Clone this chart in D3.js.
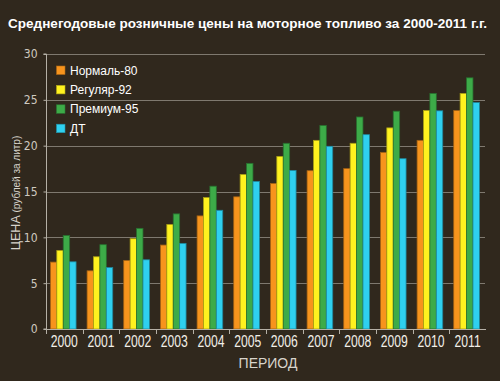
<!DOCTYPE html>
<html><head><meta charset="utf-8">
<script src="https://cdnjs.cloudflare.com/ajax/libs/d3/7.8.5/d3.min.js"></script>
<style>
html,body{margin:0;padding:0;background:#30281d;}
svg{display:block;}
</style></head><body>
<svg id="c" width="500" height="381"></svg>
<script>
const years = ["2000","2001","2002","2003","2004","2005","2006","2007","2008","2009","2010","2011"];
const seriesNames = ["Нормаль-80","Регуляр-92","Премиум-95","ДТ"];
const seriesColors = ["#f7941d","#fff21f","#3dab48","#2fd0ef"];
const normal80 = [7.3,6.35,7.48,9.16,12.34,14.42,15.88,17.27,17.5,19.27,20.58,23.84];
const regular92 = [8.57,7.88,9.85,11.4,14.34,16.86,18.83,20.58,20.26,21.94,23.84,25.7];
const premium95 = [10.2,9.2,10.98,12.56,15.58,18.07,20.26,22.2,23.13,23.76,25.7,27.4];
const dt = [7.33,6.7,7.55,9.34,12.95,16.1,17.3,19.93,21.2,18.58,23.8,24.7];
const yTicks = [0,5,10,15,20,25,30];
const title = "Среднегодовые розничные цены на моторное топливо за 2000-2011 г.г.";
const xTitle = "ПЕРИОД";

const seriesData = [normal80, regular92, premium95, dt];
const svg = d3.select("#c");
svg.append("rect").attr("width",500).attr("height",381).attr("fill","#30281d");

const m = {l:46, r:14, t:54, b:52};
const W = 500, H = 381;
const x0 = d3.scaleBand().domain(years).range([m.l, W - m.r]).padding(0);
const x1 = d3.scaleBand().domain(d3.range(4)).range([x0.bandwidth()*0.12, x0.bandwidth()*0.82]).padding(0);
const y = d3.scaleLinear().domain([0,30]).range([H - m.b, m.t]);

// gridlines
svg.append("g").selectAll("line").data(yTicks.filter(d=>d>0)).join("line")
  .attr("x1", m.l+1).attr("x2", W - m.r - 1)
  .attr("y1", d=>Math.round(y(d))+0.5).attr("y2", d=>Math.round(y(d))+0.5)
  .attr("stroke","#7f796f").attr("stroke-width",1);

// bars
const g = svg.append("g");
years.forEach((yr, i) => {
  seriesData.forEach((arr, s) => {
    g.append("rect")
      .attr("x", x0(yr) + x1(s))
      .attr("y", y(arr[i]))
      .attr("width", x1.bandwidth())
      .attr("height", y(0) - y(arr[i]))
      .attr("fill", seriesColors[s])
      .attr("stroke", d3.color(seriesColors[s]).darker(1.2))
      .attr("stroke-width", 0.8);
  });
});

// y axis
const yAxis = svg.append("g").attr("transform", `translate(${m.l+0.5},0)`)
  .call(d3.axisLeft(y).tickValues(yTicks).tickSize(3).tickPadding(6));
yAxis.select(".domain").attr("stroke","#b5b0a6").attr("d", `M-3,${y(0)}H0V${y(30)}H-3`);
yAxis.selectAll(".tick line").attr("stroke","#b5b0a6");
yAxis.selectAll(".tick text").attr("fill","#cfcac0")
  .style("font-family","'Liberation Sans Narrow', 'DejaVu Sans Condensed', sans-serif")
  .style("font-size","12px");

// x axis
const xAxis = svg.append("g").attr("transform", `translate(0,${Math.round(y(0))+0.5})`)
  .call(d3.axisBottom(x0).tickSize(0).tickPadding(6));
xAxis.select(".domain").attr("stroke","#b5b0a6").attr("d", `M${m.l-2},0H${W-m.r}`);
xAxis.selectAll(".tick text").attr("fill","#f2efe8")
  .style("font-family","'Liberation Sans Narrow', sans-serif")
  .style("font-size","16px")
  .attr("transform","scale(0.76,1)");
// band boundary ticks
svg.append("g").selectAll("line").data(years).join("line")
  .attr("x1", d=>Math.round(x0(d))+0.5).attr("x2", d=>Math.round(x0(d))+0.5)
  .attr("y1", y(0)).attr("y2", y(0)+5)
  .attr("stroke","#b5b0a6");

// titles
svg.append("text").attr("x",8).attr("y",28).text(title)
  .attr("fill","#ffffff").style("font-family","'Liberation Sans', Arial, sans-serif")
  .style("font-weight","bold").style("font-size","13px")
  .attr("textLength",479).attr("lengthAdjust","spacingAndGlyphs");

svg.append("text").attr("x",(m.l + W - m.r)/2 + 2).attr("y",368).attr("text-anchor","middle")
  .text(xTitle).attr("fill","#d8d4cc").style("font-family","'Liberation Sans', Arial, sans-serif")
  .style("font-size","14px");

const yl = svg.append("text").attr("transform","translate(19.5,193) rotate(-90)").attr("text-anchor","middle")
  .attr("fill","#d8d4cc").style("font-family","'Liberation Sans', Arial, sans-serif");
yl.append("tspan").text("ЦЕНА").style("font-size","12.5px");
yl.append("tspan").text(" (рублей за литр)").style("font-size","10px");

// legend
const lg = svg.append("g");
seriesNames.forEach((n, i) => {
  const yy = 66 + i*19.4;
  lg.append("rect").attr("x",56.5).attr("y",yy).attr("width",8.5).attr("height",8.5)
    .attr("fill", seriesColors[i]).attr("stroke", d3.color(seriesColors[i]).darker(1)).attr("stroke-width",0.6);
  lg.append("text").attr("x",70).attr("y",yy+8.5).text(n).attr("fill","#ffffff")
    .style("font-family","'Liberation Sans', Arial, sans-serif").style("font-size","12px");
});
</script></body></html>
